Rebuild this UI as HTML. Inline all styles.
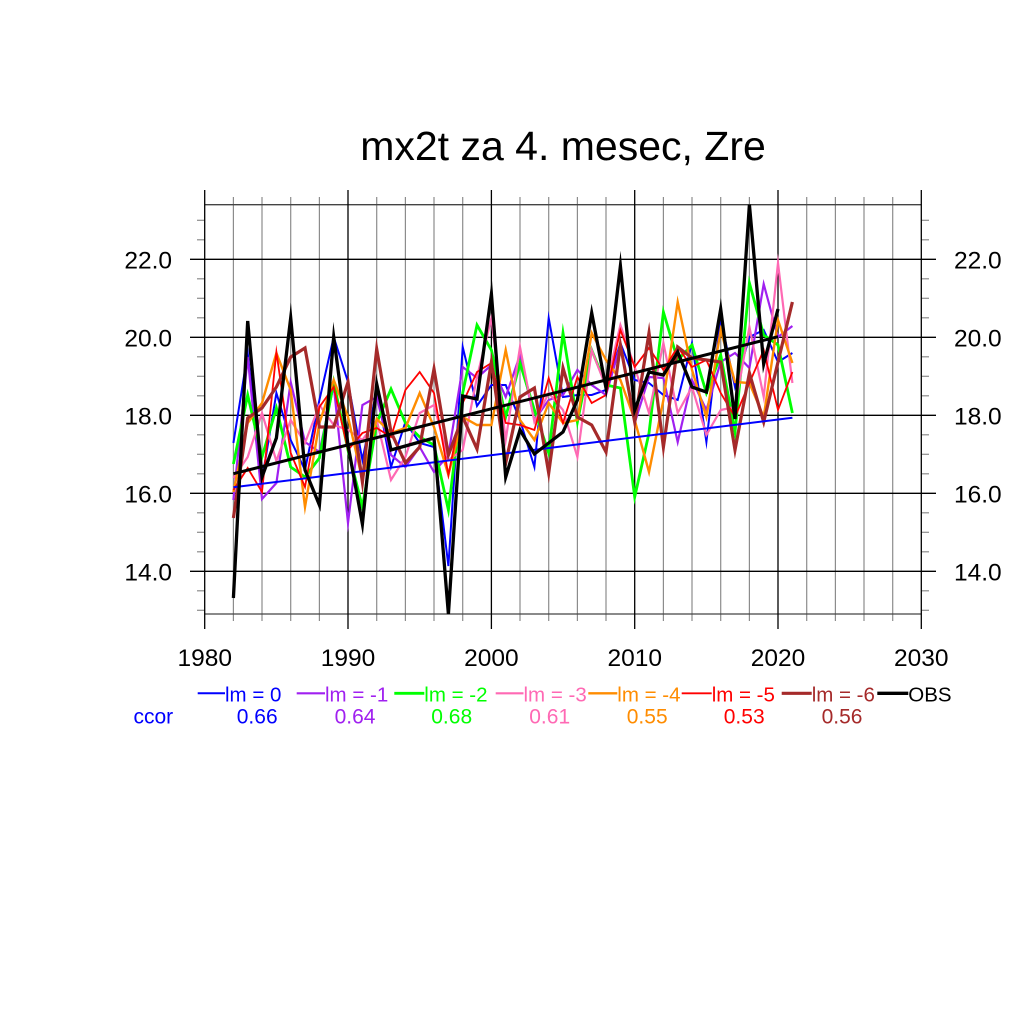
<!DOCTYPE html>
<html>
<head>
<meta charset="utf-8">
<style>
html,body{margin:0;padding:0;background:#fff;}
svg{display:block;}
text{font-family:"Liberation Sans",Arial,sans-serif;}
</style>
</head>
<body>
<svg width="1024" height="1024" viewBox="0 0 1024 1024" xmlns="http://www.w3.org/2000/svg">
<rect x="0" y="0" width="1024" height="1024" fill="#fff"/>

<!-- title -->
<text x="563" y="160" font-size="41" text-anchor="middle" fill="#000">mx2t za 4. mesec, Zre</text>

<!-- minor vertical gridlines -->
<g stroke="#8c8c8c" stroke-width="1.2">
<line x1="233.4" y1="197" x2="233.4" y2="621"/>
<line x1="262.0" y1="197" x2="262.0" y2="621"/>
<line x1="290.7" y1="197" x2="290.7" y2="621"/>
<line x1="319.4" y1="197" x2="319.4" y2="621"/>
<line x1="376.7" y1="197" x2="376.7" y2="621"/>
<line x1="405.4" y1="197" x2="405.4" y2="621"/>
<line x1="434.0" y1="197" x2="434.0" y2="621"/>
<line x1="462.7" y1="197" x2="462.7" y2="621"/>
<line x1="520.0" y1="197" x2="520.0" y2="621"/>
<line x1="548.7" y1="197" x2="548.7" y2="621"/>
<line x1="577.4" y1="197" x2="577.4" y2="621"/>
<line x1="606.0" y1="197" x2="606.0" y2="621"/>
<line x1="663.4" y1="197" x2="663.4" y2="621"/>
<line x1="692.0" y1="197" x2="692.0" y2="621"/>
<line x1="720.7" y1="197" x2="720.7" y2="621"/>
<line x1="749.4" y1="197" x2="749.4" y2="621"/>
<line x1="806.7" y1="197" x2="806.7" y2="621"/>
<line x1="835.4" y1="197" x2="835.4" y2="621"/>
<line x1="864.0" y1="197" x2="864.0" y2="621"/>
<line x1="892.7" y1="197" x2="892.7" y2="621"/>
</g>

<!-- minor y ticks -->
<g stroke="#8c8c8c" stroke-width="1.2">
<line x1="197" y1="220.3" x2="204.7" y2="220.3"/><line x1="921.3" y1="220.3" x2="929" y2="220.3"/>
<line x1="197" y1="239.8" x2="204.7" y2="239.8"/><line x1="921.3" y1="239.8" x2="929" y2="239.8"/>
<line x1="197" y1="278.8" x2="204.7" y2="278.8"/><line x1="921.3" y1="278.8" x2="929" y2="278.8"/>
<line x1="197" y1="298.3" x2="204.7" y2="298.3"/><line x1="921.3" y1="298.3" x2="929" y2="298.3"/>
<line x1="197" y1="317.8" x2="204.7" y2="317.8"/><line x1="921.3" y1="317.8" x2="929" y2="317.8"/>
<line x1="197" y1="356.8" x2="204.7" y2="356.8"/><line x1="921.3" y1="356.8" x2="929" y2="356.8"/>
<line x1="197" y1="376.3" x2="204.7" y2="376.3"/><line x1="921.3" y1="376.3" x2="929" y2="376.3"/>
<line x1="197" y1="395.8" x2="204.7" y2="395.8"/><line x1="921.3" y1="395.8" x2="929" y2="395.8"/>
<line x1="197" y1="434.8" x2="204.7" y2="434.8"/><line x1="921.3" y1="434.8" x2="929" y2="434.8"/>
<line x1="197" y1="454.3" x2="204.7" y2="454.3"/><line x1="921.3" y1="454.3" x2="929" y2="454.3"/>
<line x1="197" y1="473.8" x2="204.7" y2="473.8"/><line x1="921.3" y1="473.8" x2="929" y2="473.8"/>
<line x1="197" y1="512.8" x2="204.7" y2="512.8"/><line x1="921.3" y1="512.8" x2="929" y2="512.8"/>
<line x1="197" y1="532.3" x2="204.7" y2="532.3"/><line x1="921.3" y1="532.3" x2="929" y2="532.3"/>
<line x1="197" y1="551.8" x2="204.7" y2="551.8"/><line x1="921.3" y1="551.8" x2="929" y2="551.8"/>
<line x1="197" y1="590.8" x2="204.7" y2="590.8"/><line x1="921.3" y1="590.8" x2="929" y2="590.8"/>
<line x1="197" y1="610.3" x2="204.7" y2="610.3"/><line x1="921.3" y1="610.3" x2="929" y2="610.3"/>
</g>

<!-- top/bottom borders -->
<g stroke="#444" stroke-width="1.3">
<line x1="204.7" y1="204.7" x2="921.3" y2="204.7"/>
<line x1="204.7" y1="614" x2="921.3" y2="614"/>
</g>

<!-- major vertical lines -->
<g stroke="#000" stroke-width="1.3">
<line x1="204.7" y1="190" x2="204.7" y2="629"/>
<line x1="348.0" y1="190" x2="348.0" y2="629"/>
<line x1="491.4" y1="190" x2="491.4" y2="629"/>
<line x1="634.7" y1="190" x2="634.7" y2="629"/>
<line x1="778.0" y1="190" x2="778.0" y2="629"/>
<line x1="921.3" y1="190" x2="921.3" y2="629"/>
</g>

<!-- major horizontal gridlines -->
<g stroke="#000" stroke-width="1.3">
<line x1="190" y1="259.3" x2="936" y2="259.3"/>
<line x1="190" y1="337.3" x2="936" y2="337.3"/>
<line x1="190" y1="415.3" x2="936" y2="415.3"/>
<line x1="190" y1="493.3" x2="936" y2="493.3"/>
<line x1="190" y1="571.3" x2="936" y2="571.3"/>
</g>

<!-- y labels -->
<g font-size="24.5" fill="#000">
<text x="172" y="268.3" text-anchor="end">22.0</text>
<text x="172" y="346.3" text-anchor="end">20.0</text>
<text x="172" y="424.3" text-anchor="end">18.0</text>
<text x="172" y="502.3" text-anchor="end">16.0</text>
<text x="172" y="580.3" text-anchor="end">14.0</text>
<text x="954" y="268.3">22.0</text>
<text x="954" y="346.3">20.0</text>
<text x="954" y="424.3">18.0</text>
<text x="954" y="502.3">16.0</text>
<text x="954" y="580.3">14.0</text>
</g>
<!-- x labels -->
<g font-size="24.5" fill="#000" text-anchor="middle">
<text x="204.7" y="666">1980</text>
<text x="348.0" y="666">1990</text>
<text x="491.4" y="666">2000</text>
<text x="634.7" y="666">2010</text>
<text x="778.0" y="666">2020</text>
<text x="921.3" y="666">2030</text>
</g>

<!-- series -->
<g fill="none" stroke-linejoin="miter" stroke-miterlimit="10">
<polyline stroke="#0000ff" stroke-width="2" points="233.4,443 247.7,353 262.0,480 276.4,393 290.7,440 305.0,470 319.4,400 333.7,337 348.0,382 362.4,460 376.7,390 391.0,467 405.4,422 419.7,443 434.0,447 448.4,566 462.7,347 477.0,406 491.4,385 505.7,385 520.0,420 534.4,467 548.7,318 563.0,397 577.4,395 591.7,395 606.0,390 620.4,343 634.7,380 649.0,383 663.4,395 677.7,400 692.0,343 706.4,442 720.7,318 735.0,387 749.4,337 763.7,330 778.0,362 792.4,353"/>
<polyline stroke="#a020f0" stroke-width="2.2" points="233.4,500 247.7,357 262.0,499 276.4,483 290.7,382 305.0,442 319.4,452 333.7,385 348.0,523 362.4,405 376.7,397 391.0,455 405.4,467 419.7,447 434.0,472 448.4,455 462.7,367 477.0,378 491.4,365 505.7,397 520.0,355 534.4,420 548.7,400 563.0,395 577.4,370 591.7,385 606.0,395 620.4,345 634.7,423 649.0,377 663.4,378 677.7,442 692.0,380 706.4,410 720.7,362 735.0,353 749.4,368 763.7,284 778.0,337 792.4,326"/>
<polyline stroke="#00ff00" stroke-width="2.8" points="233.4,464 247.7,395 262.0,457 276.4,408 290.7,467 305.0,477 319.4,458 333.7,382 348.0,450 362.4,507 376.7,423 391.0,389 405.4,423 419.7,437 434.0,445 448.4,510 462.7,393 477.0,325 491.4,350 505.7,417 520.0,363 534.4,410 548.7,453 563.0,333 577.4,422 591.7,350 606.0,385 620.4,388 634.7,497 649.0,433 663.4,312 677.7,360 692.0,345 706.4,393 720.7,355 735.0,432 749.4,283 763.7,335 778.0,345 792.4,413"/>
<polyline stroke="#ff69b4" stroke-width="2.2" points="233.4,478 247.7,457 262.0,413 276.4,461 290.7,420 305.0,443 319.4,405 333.7,425 348.0,430 362.4,440 376.7,420 391.0,480 405.4,457 419.7,413 434.0,405 448.4,460 462.7,450 477.0,377 491.4,318 505.7,440 520.0,347 534.4,422 548.7,393 563.0,410 577.4,457 591.7,350 606.0,387 620.4,325 634.7,367 649.0,413 663.4,343 677.7,413 692.0,387 706.4,435 720.7,410 735.0,407 749.4,327 763.7,397 778.0,263 792.4,383"/>
<polyline stroke="#ff8c00" stroke-width="2.4" points="233.4,492 247.7,423 262.0,403 276.4,353 290.7,390 305.0,507 319.4,423 333.7,380 348.0,417 362.4,480 376.7,419 391.0,433 405.4,428 419.7,393 434.0,427 448.4,475 462.7,417 477.0,425 491.4,425 505.7,350 520.0,420 534.4,440 548.7,403 563.0,423 577.4,420 591.7,333 606.0,360 620.4,380 634.7,420 649.0,472 663.4,400 677.7,302 692.0,370 706.4,417 720.7,330 735.0,382 749.4,383 763.7,417 778.0,320 792.4,363"/>
<polyline stroke="#ff0000" stroke-width="1.8" points="233.4,490 247.7,468 262.0,492 276.4,352 290.7,453 305.0,487 319.4,407 333.7,387 348.0,450 362.4,433 376.7,428 391.0,437 405.4,390 419.7,372 434.0,393 448.4,475 462.7,403 477.0,372 491.4,363 505.7,423 520.0,425 534.4,430 548.7,378 563.0,423 577.4,377 591.7,403 606.0,395 620.4,330 634.7,367 649.0,348 663.4,370 677.7,347 692.0,367 706.4,360 720.7,393 735.0,417 749.4,383 763.7,350 778.0,410 792.4,372"/>
<polyline stroke="#a52a2a" stroke-width="3.2" points="233.4,518 247.7,418 262.0,408 276.4,387 290.7,357 305.0,348 319.4,427 333.7,427 348.0,382 362.4,482 376.7,349 391.0,432 405.4,463 419.7,447 434.0,369 448.4,455 462.7,417 477.0,449 491.4,362 505.7,463 520.0,397 534.4,388 548.7,473 563.0,368 577.4,417 591.7,425 606.0,452 620.4,345 634.7,422 649.0,333 663.4,447 677.7,347 692.0,358 706.4,360 720.7,362 735.0,450 749.4,373 763.7,422 778.0,362 792.4,302"/>
<line x1="233.4" y1="487.3" x2="792.4" y2="417.7" stroke="#0000ff" stroke-width="2"/>
<line x1="233.4" y1="473.7" x2="778.0" y2="336.7" stroke="#000" stroke-width="3"/>
<polyline stroke="#000" stroke-width="3.3" points="233.4,598 247.7,321 262.0,477 276.4,438 290.7,318 305.0,470 319.4,505 333.7,337 348.0,445 362.4,524 376.7,384 391.0,450 405.4,446 419.7,442 434.0,438 448.4,614 462.7,396 477.0,399 491.4,294 505.7,477 520.0,430 534.4,454 548.7,443 563.0,432 577.4,400 591.7,313 606.0,388 620.4,266 634.7,410 649.0,372 663.4,375 677.7,352 692.0,387 706.4,392 720.7,309 735.0,419 749.4,204.7 763.7,364 778.0,309"/>
</g>

<!-- legend -->
<g font-size="20.5">
<line x1="197.7" y1="693.3" x2="225" y2="693.3" stroke="#0000ff" stroke-width="2"/>
<text x="225" y="701.7" fill="#0000ff">lm = 0</text>
<line x1="296.7" y1="693.3" x2="325" y2="693.3" stroke="#a020f0" stroke-width="2.2"/>
<text x="325" y="701.7" fill="#a020f0">lm = -1</text>
<line x1="394.3" y1="693.3" x2="424.3" y2="693.3" stroke="#00ff00" stroke-width="2.8"/>
<text x="424.3" y="701.7" fill="#00ff00">lm = -2</text>
<line x1="495.7" y1="693.3" x2="523.5" y2="693.3" stroke="#ff69b4" stroke-width="2.2"/>
<text x="523.5" y="701.7" fill="#ff69b4">lm = -3</text>
<line x1="588.3" y1="693.3" x2="617.3" y2="693.3" stroke="#ff8c00" stroke-width="2.4"/>
<text x="617.3" y="701.7" fill="#ff8c00">lm = -4</text>
<line x1="681.7" y1="693.3" x2="711.7" y2="693.3" stroke="#ff0000" stroke-width="1.8"/>
<text x="711.7" y="701.7" fill="#ff0000">lm = -5</text>
<line x1="781.7" y1="693.3" x2="811.7" y2="693.3" stroke="#a52a2a" stroke-width="3.2"/>
<text x="811.7" y="701.7" fill="#a52a2a">lm = -6</text>
<line x1="877.3" y1="693.3" x2="908.3" y2="693.3" stroke="#000" stroke-width="3.3"/>
<text x="908.3" y="701.7" fill="#000">OBS</text>
</g>
<g font-size="21" text-anchor="middle">
<text x="153.3" y="723.3" fill="#0000ff">ccor</text>
<text x="257.2" y="723.3" fill="#0000ff">0.66</text>
<text x="355" y="723.3" fill="#a020f0">0.64</text>
<text x="451.7" y="723.3" fill="#00ff00">0.68</text>
<text x="549.7" y="723.3" fill="#ff69b4">0.61</text>
<text x="647.2" y="723.3" fill="#ff8c00">0.55</text>
<text x="744.2" y="723.3" fill="#ff0000">0.53</text>
<text x="842" y="723.3" fill="#a52a2a">0.56</text>
</g>
</svg>
</body>
</html>
